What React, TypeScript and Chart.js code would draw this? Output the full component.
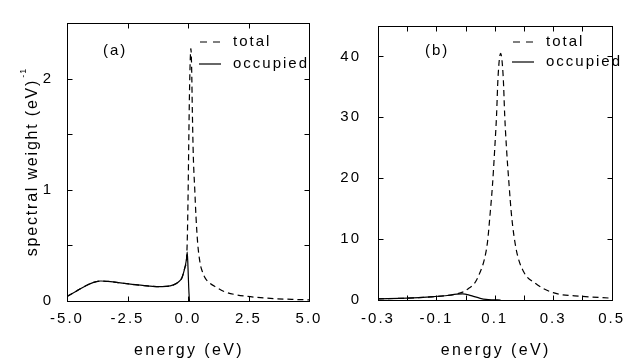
import React, { useEffect, useRef } from "react";
import { Chart, registerables } from "chart.js";
Chart.register(...registerables);

const FONT = "'Liberation Sans', Arial, Helvetica, sans-serif";
const LS = "2px";

// ---------- panel (a) data ----------
const occEnergyA = [-5, -4.6, -4.2, -3.9, -3.6, -3.2, -2.8, -2.3, -1.8, -1.3, -0.9, -0.6, -0.4, -0.25, -0.13, -0.06, -0.03, 0.0, 0.03, 0.06];
const occWeightA = [0.04, 0.09, 0.14, 0.168, 0.18, 0.175, 0.163, 0.15, 0.138, 0.13, 0.132, 0.145, 0.17, 0.21, 0.3, 0.38, 0.44, 0.3, 0.12, 0];
const totEnergyA = [-5, -4.6, -4.2, -3.9, -3.6, -3.2, -2.8, -2.3, -1.8, -1.3, -0.9, -0.6, -0.4, -0.25, -0.13, -0.06, -0.03, 0.0, 0.03, 0.06, 0.09, 0.12, 0.15, 0.18, 0.22, 0.28, 0.33, 0.4, 0.5, 0.6, 0.7, 0.9, 1.2, 1.5, 1.9, 2.4, 3.0, 3.7, 4.4, 5.0];
const totWeightA = [0.04, 0.09, 0.14, 0.168, 0.18, 0.175, 0.163, 0.15, 0.138, 0.13, 0.132, 0.145, 0.17, 0.21, 0.3, 0.38, 0.55, 0.9, 1.4, 1.85, 2.15, 2.27, 2.1, 1.7, 1.3, 1.0, 0.76, 0.52, 0.34, 0.26, 0.21, 0.16, 0.12, 0.085, 0.06, 0.043, 0.03, 0.02, 0.014, 0.01];
const xTicksA = [-5, -2.5, 0, 2.5, 5];
const xLabelsA = ["-5.0", "-2.5", "0.0", "2.5", "5.0"];
const yTicksA = [0, 0.5, 1, 1.5, 2, 2.5];
const yLabelsA = ["0", "", "1", "", "2", ""];

// ---------- panel (b) data ----------
const occEnergyB = [-0.3, -0.2, -0.12, -0.07, -0.03, -0.01, 0.01, 0.03, 0.05, 0.07, 0.09, 0.12];
const occWeightB = [0.2, 0.3, 0.5, 0.7, 0.95, 1.0, 0.85, 0.55, 0.28, 0.1, 0.03, 0];
const totEnergyB = [-0.3, -0.2, -0.12, -0.07, -0.03, -0.01, 0.01, 0.03, 0.05, 0.065, 0.075, 0.083, 0.092, 0.1, 0.106, 0.111, 0.12, 0.129, 0.134, 0.14, 0.148, 0.158, 0.173, 0.197, 0.24, 0.3, 0.4, 0.5];
const totWeightB = [0.2, 0.3, 0.5, 0.7, 1.0, 1.3, 1.9, 2.7, 4.6, 6.8, 9.5, 13.6, 18.8, 25, 30.3, 36.5, 40.5, 36.5, 30.3, 25, 19.5, 13.6, 8.4, 4.8, 2.7, 1.2, 0.6, 0.3];
const xTicksB = [-0.3, -0.2, -0.1, 0, 0.1, 0.2, 0.3, 0.4, 0.5];
const xLabelsB = ["-0.3", "", "-0.1", "", "0.1", "", "0.3", "", "0.5"];
const yTicksB = [0, 10, 20, 30, 40];
const yLabelsB = ["0", "10", "20", "30", "40"];

const seriesNames = ["total", "occupied"];
const panelNames = ["(a)", "(b)"];
const xTitle = "energy (eV)";
const yTitle = "spectral weight (eV)";
const yTitleSup = "-1";

const W = 635;
const H = 360;

type Panel = {
  occX: number[]; occY: number[]; totX: number[]; totY: number[];
  xMin: number; xMax: number; yMin: number; yMax: number;
  xTicks: number[]; xLabels: string[]; yTicks: number[]; yLabels: string[];
  area: { left: number; top: number; right: number; bottom: number };
  yAxisWidth: number; yPad: number; xPad: number;
  label: string; labelPos: [number, number];
  legendX: number; legendY: [number, number];
  showYTitle: boolean;
};

const panels: Panel[] = [
  {
    occX: occEnergyA, occY: occWeightA, totX: totEnergyA, totY: totWeightA,
    xMin: -5, xMax: 5, yMin: 0, yMax: 2.5,
    xTicks: xTicksA, xLabels: xLabelsA, yTicks: yTicksA, yLabels: yLabelsA,
    area: { left: 67, top: 13, right: 309, bottom: 301 },
    yAxisWidth: 67, yPad: 14, xPad: 9,
    label: panelNames[0], labelPos: [103, 51],
    legendX: 200, legendY: [42, 64],
    showYTitle: true,
  },
  {
    occX: occEnergyB, occY: occWeightB, totX: totEnergyB, totY: totWeightB,
    xMin: -0.3, xMax: 0.5, yMin: 0, yMax: 45,
    xTicks: xTicksB, xLabels: xLabelsB, yTicks: yTicksB, yLabels: yLabelsB,
    area: { left: 378, top: 13, right: 620, bottom: 300 },
    yAxisWidth: 61, yPad: 17, xPad: 10,
    label: panelNames[1], labelPos: [425, 51],
    legendX: 513, legendY: [42, 62],
    showYTitle: false,
  },
];

function setLS(chart: any) {
  try { chart.ctx.letterSpacing = LS; } catch (e) {}
}

function makeDeco(p: Panel) {
  return {
    id: "deco",
    afterInit: setLS,
    beforeUpdate: setLS,
    beforeLayout: setLS,
    beforeDraw: setLS,
    afterDraw(chart: any) {
      const ctx = chart.ctx;
      const a = chart.chartArea;
      const xs = chart.scales.x;
      const ys = chart.scales.y;
      ctx.save();
      ctx.strokeStyle = "#000";
      ctx.fillStyle = "#000";
      ctx.lineWidth = 1;
      ctx.setLineDash([]);
      const L = Math.round(a.left) + 0.5;
      const R = Math.round(a.right) + 0.5;
      const T = Math.round(a.top) + 0.5;
      const B = Math.round(a.bottom) + 0.5;
      ctx.strokeRect(L, T, R - L, B - T);
      const tl = 5;
      ctx.beginPath();
      for (const v of p.xTicks) {
        const px = Math.round(xs.getPixelForValue(v)) + 0.5;
        ctx.moveTo(px, B); ctx.lineTo(px, B - tl);
        ctx.moveTo(px, T); ctx.lineTo(px, T + tl);
      }
      for (const v of p.yTicks) {
        const py = Math.round(ys.getPixelForValue(v)) + 0.5;
        ctx.moveTo(L, py); ctx.lineTo(L + tl, py);
        ctx.moveTo(R, py); ctx.lineTo(R - tl, py);
      }
      ctx.stroke();

      // panel label
      ctx.letterSpacing = LS;
      ctx.font = `15px ${FONT}`;
      ctx.textAlign = "left";
      ctx.textBaseline = "middle";
      ctx.fillText(p.label, p.labelPos[0], p.labelPos[1]);

      // legend
      const lx = p.legendX;
      ctx.lineWidth = 1.2;
      ctx.beginPath();
      ctx.setLineDash([7, 6]);
      ctx.moveTo(lx, p.legendY[0]); ctx.lineTo(lx + 20, p.legendY[0]);
      ctx.stroke();
      ctx.beginPath();
      ctx.setLineDash([]);
      ctx.moveTo(lx - 1, p.legendY[1]); ctx.lineTo(lx + 21, p.legendY[1]);
      ctx.stroke();
      ctx.fillText(seriesNames[0], lx + 33, p.legendY[0]);
      ctx.fillText(seriesNames[1], lx + 33, p.legendY[1]);

      // x title
      ctx.font = `16px ${FONT}`;
      ctx.letterSpacing = "2.4px";
      ctx.textAlign = "center";
      ctx.textBaseline = "alphabetic";
      ctx.fillText(xTitle, (a.left + a.right) / 2 + 1, 355);

      // y title with superscript
      if (p.showYTitle) {
        ctx.textAlign = "left";
        ctx.font = `16px ${FONT}`;
        ctx.letterSpacing = "1.8px";
        const mainW = ctx.measureText(yTitle).width;
        ctx.font = `9px ${FONT}`;
        ctx.letterSpacing = "1px";
        const supW = ctx.measureText(yTitleSup).width;
        const total = mainW + 1 + supW;
        const cy = (a.top + a.bottom) / 2;
        ctx.translate(36.5, cy);
        ctx.rotate(-Math.PI / 2);
        ctx.textBaseline = "alphabetic";
        ctx.font = `16px ${FONT}`;
        ctx.letterSpacing = "1.8px";
        ctx.fillText(yTitle, -total / 2, 0);
        ctx.font = `9px ${FONT}`;
        ctx.letterSpacing = "1px";
        ctx.fillText(yTitleSup, -total / 2 + mainW + 1, -11);
      }
      ctx.restore();
      setLS(chart);
    },
  };
}

function PanelChart({ p }: { p: Panel }) {
  const ref = useRef<HTMLCanvasElement | null>(null);
  useEffect(() => {
    if (!ref.current) return;
    const occ = p.occX.map((x, i) => ({ x, y: p.occY[i] }));
    const tot = p.totX.map((x, i) => ({ x, y: p.totY[i] }));
    const chart = new Chart(ref.current, {
      type: "scatter",
      data: {
        datasets: [
          {
            label: seriesNames[1],
            data: occ,
            showLine: true,
            borderColor: "#000",
            borderWidth: 1.2,
            pointRadius: 0,
            cubicInterpolationMode: "monotone",
          },
          {
            label: seriesNames[0],
            data: tot,
            showLine: true,
            borderColor: "#000",
            borderWidth: 1.2,
            borderDash: [6, 4],
            pointRadius: 0,
            cubicInterpolationMode: "monotone",
          },
        ],
      },
      options: {
        animation: false,
        responsive: false,
        devicePixelRatio: 1,
        layout: {
          padding: {
            left: p.area.left - p.yAxisWidth,
            right: W - p.area.right,
            top: p.area.top,
            bottom: 0,
          },
        },
        plugins: { legend: { display: false }, tooltip: { enabled: false } },
        scales: {
          x: {
            type: "linear",
            min: p.xMin,
            max: p.xMax,
            grid: { display: false, drawTicks: false },
            border: { display: false },
            afterBuildTicks: (s: any) => { s.ticks = p.xTicks.map((v) => ({ value: v })); },
            afterFit: (s: any) => { s.height = H - p.area.bottom; },
            ticks: {
              autoSkip: false,
              maxRotation: 0,
              padding: p.xPad,
              color: "#000",
              font: { family: FONT, size: 15 },
              callback: (_v: any, i: number) => p.xLabels[i],
            },
          },
          y: {
            type: "linear",
            min: p.yMin,
            max: p.yMax,
            grid: { display: false, drawTicks: false },
            border: { display: false },
            afterBuildTicks: (s: any) => { s.ticks = p.yTicks.map((v) => ({ value: v })); },
            afterFit: (s: any) => { s.width = p.yAxisWidth; },
            ticks: {
              autoSkip: false,
              padding: p.yPad,
              color: "#000",
              font: { family: FONT, size: 15 },
              callback: (_v: any, i: number) => p.yLabels[i],
            },
          },
        },
      },
      plugins: [makeDeco(p)],
    } as any);
    return () => chart.destroy();
  }, [p]);
  return (
    <canvas
      ref={ref}
      width={W}
      height={H}
      style={{ position: "absolute", left: 0, top: 0, width: W, height: H }}
    />
  );
}

export default function App() {
  return (
    <div style={{ position: "absolute", left: 0, top: 0, width: W, height: H, background: "#fff" }}>
      {panels.map((p, i) => (
        <PanelChart key={i} p={p} />
      ))}
    </div>
  );
}
